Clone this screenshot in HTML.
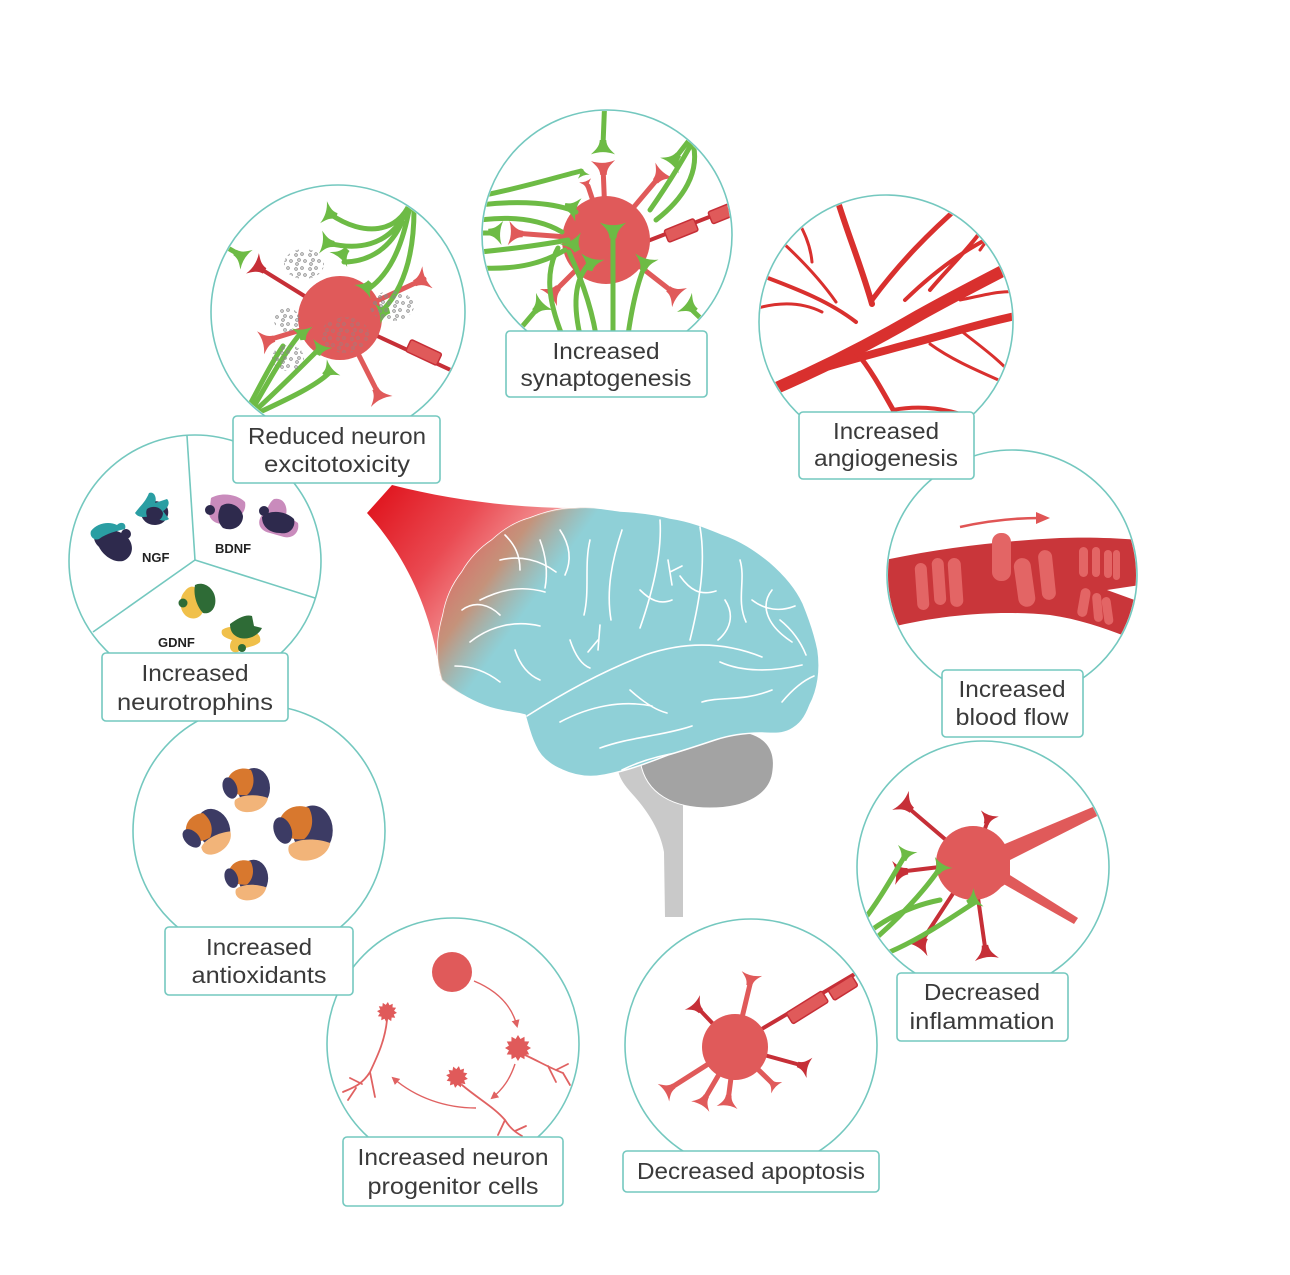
<!DOCTYPE html>
<html><head><meta charset="utf-8"><style>
html,body{margin:0;padding:0;background:#fff;}
svg{display:block;}
.lb{font-family:"Liberation Sans",Arial,sans-serif;font-size:23px;fill:#3a3a3a;}
.nt{font-family:"Liberation Sans",Arial,sans-serif;font-size:13px;font-weight:bold;fill:#222;}
.box{fill:#fff;stroke:#74c8bf;stroke-width:1.6;}
.circ{fill:#fff;stroke:#74c8bf;stroke-width:1.6;}
.gy{fill:none;stroke:#fff;stroke-width:1.6;stroke-linecap:round;}
.gr{fill:none;stroke:#6dbb45;stroke-width:5;stroke-linecap:round;}
.rd{stroke:#e05a5a;stroke-width:5;stroke-linecap:round;fill:none;}
.dr{stroke:#c62f37;stroke-width:4;stroke-linecap:round;fill:none;}
.ves{fill:none;stroke:#d9302e;stroke-linecap:round;stroke-linejoin:round;}
.arr{fill:none;stroke:#e06262;stroke-width:1.4;}
</style></head><body>
<svg width="1290" height="1275" viewBox="0 0 1290 1275" xmlns="http://www.w3.org/2000/svg">
<defs>
<clipPath id="c1"><circle cx="338" cy="312" r="126"/></clipPath>
<clipPath id="c2"><circle cx="607" cy="235" r="124"/></clipPath>
<clipPath id="c3"><circle cx="886" cy="322" r="126"/></clipPath>
<clipPath id="c4"><circle cx="1012" cy="575" r="124"/></clipPath>
<clipPath id="c5"><circle cx="983" cy="867" r="125"/></clipPath>
<clipPath id="c6"><circle cx="751" cy="1045" r="125"/></clipPath>
<clipPath id="c7"><circle cx="453" cy="1044" r="125"/></clipPath>
<clipPath id="c8"><circle cx="259" cy="831" r="125"/></clipPath>
<clipPath id="c9"><circle cx="195" cy="561" r="125"/></clipPath>
<path id="fl" d="M-2.8,13 C-3,7 -7,4 -10.5,0.5 Q0,4.5 10.5,0.5 C7,4 3,7 2.8,13 Z"/>
<path id="star" d="M1,0 L0.695,0.186 L0.866,0.5 L0.509,0.509 L0.5,0.866 L0.186,0.695 L0,1 L-0.186,0.695 L-0.5,0.866 L-0.509,0.509 L-0.866,0.5 L-0.695,0.186 L-1,0 L-0.695,-0.186 L-0.866,-0.5 L-0.509,-0.509 L-0.5,-0.866 L-0.186,-0.695 L0,-1 L0.186,-0.695 L0.5,-0.866 L0.509,-0.509 L0.866,-0.5 L0.695,-0.186 Z"/>
<marker id="ah" markerWidth="8" markerHeight="8" refX="6" refY="4" orient="auto" markerUnits="userSpaceOnUse"><path d="M0,0 L8,4 L0,8 Z" fill="#e06262"/></marker>
<pattern id="dots" width="14" height="14" patternUnits="userSpaceOnUse">
<circle cx="2" cy="3" r="1.3" fill="none" stroke="#888" stroke-width="0.9"/>
<circle cx="8" cy="2" r="1.3" fill="none" stroke="#888" stroke-width="0.9"/>
<circle cx="5" cy="8" r="1.3" fill="none" stroke="#888" stroke-width="0.9"/>
<circle cx="11" cy="9" r="1.3" fill="none" stroke="#888" stroke-width="0.9"/>
<circle cx="3" cy="12" r="1.3" fill="none" stroke="#888" stroke-width="0.9"/>
</pattern>
<path id="brainP" d="M442,680 C436,660 436,640 443,615 C446,598 452,585 462,572 C470,558 480,548 492,540 C503,530 515,522 530,518 C545,512 560,508 575,508 C590,506 605,509 620,511 C640,512 655,514 670,518 C690,521 705,527 722,534 C740,540 755,550 770,562 C785,575 796,588 803,603 C810,620 815,635 818,650 C821,670 818,690 810,705 C805,718 800,725 790,730 C780,735 770,733 760,733 C745,733 730,735 715,740 C700,745 685,750 668,755 C650,762 630,770 605,775 C590,778 575,776 562,770 C550,765 540,757 535,745 C530,735 528,725 525,715 C515,712 500,712 485,706 C470,700 455,692 442,680 Z"/>
<clipPath id="cb"><use href="#brainP"/></clipPath>
<linearGradient id="gCone" gradientUnits="userSpaceOnUse" x1="375" y1="498" x2="510" y2="600">
<stop offset="0" stop-color="#e0161f"/><stop offset="0.5" stop-color="#ea4a52"/><stop offset="1" stop-color="#f4a6a6"/></linearGradient>
<linearGradient id="gBr" gradientUnits="userSpaceOnUse" x1="438" y1="545" x2="555" y2="630">
<stop offset="0" stop-color="#e35d60" stop-opacity="1"/><stop offset="0.42" stop-color="#cc8a6e" stop-opacity="0.88"/><stop offset="0.76" stop-color="#b09a88" stop-opacity="0"/></linearGradient>
</defs>

<!-- ============ BRAIN ============ -->
<path d="M392,485 C450,500 515,508 575,508 L560,560 L470,650 L440,676 C432,610 405,555 367,513 Z" fill="url(#gCone)"/>
<path d="M618,770 L640,764 C650,790 665,800 683,805 L683,917 L665,917 L664,852 C660,830 648,812 635,797 C628,789 620,781 618,770 Z" fill="#c9c9c9"/>
<path d="M640,760 C650,740 690,731 730,731 C762,731 776,746 773,770 C771,795 745,808 710,808 C675,808 645,795 640,760 Z" fill="#a3a3a3" stroke="#fff" stroke-width="1"/>
<use href="#brainP" fill="#8fd0d7" stroke="#fff" stroke-width="1.5"/>
<rect x="420" y="490" width="200" height="220" fill="url(#gBr)" clip-path="url(#cb)"/>
<g clip-path="url(#cb)">
<path class="gy" d="M527,716 C560,695 600,672 645,655 C680,643 720,640 762,657"/>
<path class="gy" d="M660,520 C662,550 655,585 640,628"/>
<path class="gy" d="M700,527 C706,562 700,600 690,640"/>
<path class="gy" d="M622,530 C612,560 606,590 611,620"/>
<path class="gy" d="M590,540 C584,565 590,590 584,615"/>
<path class="gy" d="M740,560 C746,580 736,600 746,622"/>
<path class="gy" d="M772,590 C760,605 766,625 792,642"/>
<path class="gy" d="M720,662 C742,672 772,672 802,665"/>
<path class="gy" d="M560,722 C590,706 622,700 652,706"/>
<path class="gy" d="M600,748 C630,737 662,736 692,726"/>
<path class="gy" d="M702,702 C722,696 742,702 772,690"/>
<path class="gy" d="M470,642 C490,626 515,620 540,626"/>
<path class="gy" d="M480,600 C500,590 520,585 545,592"/>
<path class="gy" d="M500,560 C520,555 540,560 556,572"/>
<path class="gy" d="M455,666 C470,666 486,671 500,682"/>
<path class="gy" d="M540,540 C546,556 548,572 545,588"/>
<path class="gy" d="M680,576 C690,590 700,596 716,591"/>
<path class="gy" d="M782,702 C792,690 802,681 814,676"/>
<path class="gy" d="M622,770 C642,760 662,755 682,752"/>
<path class="gy" d="M630,690 C641,700 655,710 667,713"/>
<path class="gy" d="M570,640 C575,655 582,665 590,668"/>
<path class="gy" d="M752,600 C765,610 780,612 795,606"/>
<path class="gy" d="M600,625 L598,650 M598,640 L588,652"/>
<path class="gy" d="M668,560 L672,585 M670,572 L682,566"/>
<path class="gy" d="M515,650 C520,665 528,675 540,680"/>
<path class="gy" d="M462,610 C475,600 490,605 500,615"/>
<path class="gy" d="M505,535 C515,545 520,555 520,570"/>
<path class="gy" d="M560,530 C570,545 572,560 565,575"/>
<path class="gy" d="M725,600 C735,615 730,630 718,640"/>
<path class="gy" d="M640,590 C650,600 660,605 672,600"/>
<path class="gy" d="M780,620 C790,628 800,640 806,655"/>
</g>

<!-- ============ CIRCLES ============ -->
<circle class="circ" cx="338" cy="312" r="127"/>
<circle class="circ" cx="607" cy="235" r="125"/>
<circle class="circ" cx="886" cy="322" r="127"/>
<circle class="circ" cx="1012" cy="575" r="125"/>
<circle class="circ" cx="983" cy="867" r="126"/>
<circle class="circ" cx="751" cy="1045" r="126"/>
<circle class="circ" cx="453" cy="1044" r="126"/>
<circle class="circ" cx="259" cy="831" r="126"/>
<circle class="circ" cx="195" cy="561" r="126"/>

<!-- 1 Excitotoxicity -->
<g clip-path="url(#c1)">
<line class="dr" x1="340" y1="318" x2="256" y2="266"/>
<line class="rd" x1="340" y1="318" x2="424" y2="279"/>
<line class="rd" x1="340" y1="318" x2="265" y2="341"/>
<line class="rd" x1="340" y1="318" x2="380" y2="397"/>
<line class="dr" x1="360" y1="328" x2="470" y2="379"/>
<rect x="407" y="346" width="34" height="13" rx="2" transform="rotate(25 424 352)" fill="#e05a5a" stroke="#c62f37" stroke-width="1.5"/>
<circle cx="340" cy="318" r="42" fill="#e05a5a"/>
<use href="#fl" fill="#c62f37" transform="translate(252,263) rotate(-58) scale(1.15)"/>
<use href="#fl" fill="#e05a5a" transform="translate(428,277) rotate(65) scale(1.15)"/>
<use href="#fl" fill="#e05a5a" transform="translate(260,343) rotate(-107) scale(1.15)"/>
<use href="#fl" fill="#e05a5a" transform="translate(382,402) rotate(153) scale(1.15)"/>
<use href="#fl" fill="#6dbb45" transform="translate(247,260) rotate(122) scale(1.1)"/>
<line class="gr" x1="240" y1="255" x2="200" y2="232"/>
<path class="gr" d="M410,203 C398,232 365,238 330,214"/>
<path class="gr" d="M406,212 C388,248 355,250 328,243"/>
<path class="gr" d="M402,222 C388,254 362,262 344,262"/>
<path class="gr" d="M410,205 C402,250 388,276 367,290"/>
<path class="gr" d="M414,210 C414,262 400,292 383,310"/>
<use href="#fl" fill="#6dbb45" transform="translate(323,212) rotate(-73) scale(1.1)"/>
<use href="#fl" fill="#6dbb45" transform="translate(320,242) rotate(-82) scale(1.1)"/>
<use href="#fl" fill="#6dbb45" transform="translate(338,260) rotate(-140) scale(1.1)"/>
<use href="#fl" fill="#6dbb45" transform="translate(362,292) rotate(-140)"/>
<use href="#fl" fill="#6dbb45" transform="translate(377,314) rotate(-105)"/>
<path class="gr" d="M252,410 C268,382 285,352 300,334"/>
<path class="gr" d="M256,410 C280,388 302,366 318,350"/>
<path class="gr" d="M260,412 C290,398 315,386 328,374"/>
<path class="gr" d="M248,408 C262,382 272,362 283,346"/>
<use href="#fl" fill="#6dbb45" transform="translate(302,327) rotate(-5)"/>
<use href="#fl" fill="#6dbb45" transform="translate(323,343) rotate(25)"/>
<use href="#fl" fill="#6dbb45" transform="translate(334,367) rotate(50)"/>
<ellipse cx="304" cy="264" rx="20" ry="15" fill="url(#dots)"/>
<ellipse cx="287" cy="320" rx="13" ry="12" fill="url(#dots)"/>
<ellipse cx="288" cy="358" rx="16" ry="13" fill="url(#dots)"/>
<ellipse cx="392" cy="306" rx="22" ry="15" fill="url(#dots)"/>
<ellipse cx="345" cy="335" rx="24" ry="18" fill="url(#dots)" opacity="0.6"/>
</g>

<!-- 2 Synaptogenesis -->
<g clip-path="url(#c2)">
<line class="dr" x1="640" y1="244" x2="745" y2="203"/>
<rect x="665" y="224" width="32" height="13" rx="2" transform="rotate(-22 681 230)" fill="#e05a5a" stroke="#c62f37" stroke-width="1.5"/>
<rect x="709" y="206" width="30" height="13" rx="2" transform="rotate(-22 724 212)" fill="#e05a5a" stroke="#c62f37" stroke-width="1.5"/>
<line class="rd" x1="606" y1="240" x2="603" y2="166"/>
<line class="rd" x1="606" y1="240" x2="660" y2="176"/>
<line class="rd" x1="606" y1="240" x2="588" y2="186" stroke-width="3.5"/>
<line class="rd" x1="606" y1="240" x2="514" y2="233"/>
<line class="rd" x1="606" y1="240" x2="553" y2="293"/>
<line class="rd" x1="606" y1="240" x2="674" y2="293"/>
<circle cx="606" cy="240" r="44" fill="#e05a5a"/>
<use href="#fl" fill="#e05a5a" transform="translate(603,160) rotate(-2) scale(1.15)"/>
<use href="#fl" fill="#6dbb45" transform="translate(603,155) rotate(180) scale(1.15)"/>
<line class="gr" x1="603" y1="145" x2="605" y2="95"/>
<use href="#fl" fill="#e05a5a" transform="translate(665,170) rotate(40) scale(1.15)"/>
<use href="#fl" fill="#6dbb45" transform="translate(669,166) rotate(220) scale(1.15)"/>
<line class="gr" x1="676" y1="157" x2="705" y2="120"/>
<use href="#fl" fill="#e05a5a" transform="translate(585,180) rotate(-19) scale(0.6)"/>
<use href="#fl" fill="#6dbb45" transform="translate(584,177) rotate(161) scale(0.6)"/>
<path class="gr" d="M581,171 C560,176 530,186 480,196"/>
<use href="#fl" fill="#e05a5a" transform="translate(508,233) rotate(-86) scale(1.15)"/>
<use href="#fl" fill="#6dbb45" transform="translate(503,233) rotate(94) scale(1.15)"/>
<line class="gr" x1="492" y1="233" x2="470" y2="233"/>
<use href="#fl" fill="#e05a5a" transform="translate(548,298) rotate(-135) scale(1.15)"/>
<use href="#fl" fill="#6dbb45" transform="translate(545,301) rotate(45) scale(1.15)"/>
<line class="gr" x1="537" y1="309" x2="515" y2="335"/>
<use href="#fl" fill="#e05a5a" transform="translate(680,298) rotate(128) scale(1.15)"/>
<use href="#fl" fill="#6dbb45" transform="translate(684,302) rotate(-52) scale(1.15)"/>
<line class="gr" x1="692" y1="310" x2="718" y2="335"/>
<path class="gr" d="M480,205 C520,200 556,203 576,212"/>
<path class="gr" d="M480,252 C520,248 552,243 568,240"/>
<path class="gr" d="M480,268 C520,270 545,262 565,250"/>
<path class="gr" d="M480,220 C520,215 545,222 562,232"/>
<path class="gr" d="M580,335 C572,300 576,276 591,262"/>
<path class="gr" d="M613,335 C613,300 613,262 613,230"/>
<path class="gr" d="M628,335 C633,300 640,276 646,263"/>
<path class="gr" d="M596,335 C590,300 578,272 569,252"/>
<path class="gr" d="M562,335 C548,300 545,272 558,248"/>
<path class="gr" d="M703,122 C684,160 664,190 650,210"/>
<path class="gr" d="M692,140 C702,172 682,200 656,220"/>
<use href="#fl" fill="#6dbb45" transform="translate(579,210) rotate(105) scale(1.15)"/>
<use href="#fl" fill="#6dbb45" transform="translate(570,238) rotate(-30) scale(1.15)"/>
<use href="#fl" fill="#6dbb45" transform="translate(593,256) rotate(15) scale(1.15)"/>
<use href="#fl" fill="#6dbb45" transform="translate(613,222) rotate(0) scale(1.25)"/>
<use href="#fl" fill="#6dbb45" transform="translate(647,256) rotate(15) scale(1.15)"/>
</g>

<!-- 3 Angiogenesis -->
<g clip-path="url(#c3)">
<path class="ves" stroke-width="12" d="M760,395 C815,372 868,345 918,316 C950,298 985,280 1020,262"/>
<path class="ves" stroke-width="8" d="M800,375 C860,356 920,342 960,330 C985,323 1005,318 1025,314"/>
<path class="ves" stroke-width="6" d="M835,192 C846,230 860,262 872,304"/>
<path class="ves" stroke-width="5" d="M872,300 C900,262 930,232 962,204"/>
<path class="ves" stroke-width="4" d="M905,300 C940,266 975,242 1015,226"/>
<path class="ves" stroke-width="4" d="M930,290 C955,260 980,240 1000,200"/>
<path class="ves" stroke-width="5" d="M856,352 C870,368 882,390 896,415"/>
<path class="ves" stroke-width="4" d="M893,410 C920,405 950,408 975,420"/>
<path class="ves" stroke-width="4" d="M760,275 C800,290 830,302 856,322"/>
<path class="ves" stroke-width="3" d="M782,242 C806,264 822,282 836,302"/>
<path class="ves" stroke-width="3" d="M758,308 C780,302 802,302 822,312"/>
<path class="ves" stroke-width="3" d="M790,205 C800,225 810,240 812,262"/>
<path class="ves" stroke-width="3" d="M960,330 C980,346 1000,360 1015,378"/>
<path class="ves" stroke-width="3" d="M930,344 C952,360 976,370 1012,386"/>
<path class="ves" stroke-width="3" d="M960,300 C985,295 1000,290 1020,292"/>
<path class="ves" stroke-width="3" d="M980,250 C990,235 1000,228 1015,225"/>
</g>

<!-- 4 Blood flow -->
<g clip-path="url(#c4)">
<path d="M880,561 C940,548 1000,541 1060,538 C1090,537 1115,538 1140,540 L1140,585 L1107,590 L1140,602 L1140,642 C1115,632 1085,620 1050,615 C1000,610 940,614 880,630 Z" fill="#c9363a"/>
<g fill="#e36565">
<rect x="916" y="563" width="12" height="47" rx="6" transform="rotate(-4 922 586)"/>
<rect x="933" y="558" width="12" height="47" rx="6" transform="rotate(-4 939 582)"/>
<rect x="949" y="558" width="13" height="49" rx="6.5" transform="rotate(-4 955 582)"/>
<rect x="992" y="533" width="19" height="48" rx="9"/>
<rect x="1016" y="558" width="17" height="49" rx="8.5" transform="rotate(-8 1024 582)"/>
<rect x="1040" y="550" width="14" height="50" rx="7" transform="rotate(-6 1047 575)"/>
<rect x="1079" y="547" width="9" height="30" rx="4.5"/>
<rect x="1092" y="547" width="8" height="30" rx="4"/>
<rect x="1104" y="550" width="8" height="28" rx="4"/>
<rect x="1113" y="550" width="7" height="30" rx="3.5"/>
<rect x="1079" y="588" width="10" height="29" rx="5" transform="rotate(10 1084 602)"/>
<rect x="1093" y="593" width="9" height="29" rx="4.5" transform="rotate(-5 1097 607)"/>
<rect x="1103" y="597" width="9" height="28" rx="4.5" transform="rotate(-8 1107 611)"/>
</g>
</g>
<path d="M960,527 Q1000,518 1040,518" fill="none" stroke="#e05555" stroke-width="2.5"/>
<path d="M1036,512 L1050,518 L1036,524 Z" fill="#e05555"/>

<!-- 5 Inflammation -->
<g clip-path="url(#c5)">
<path d="M1000,846 L1112,799 L1115,807 L1006,862 Z" fill="#e05a5a"/>
<path d="M1005,872 L1078,918 L1074,924 L1000,882 Z" fill="#e05a5a"/>
<path d="M975,830 C992,836 1002,842 1010,850 L1010,880 C1002,888 990,894 975,898 Z" fill="#e05a5a"/>
<line class="dr" x1="973" y1="863" x2="905" y2="805" stroke-width="5"/>
<line class="dr" x1="973" y1="863" x2="988" y2="820" stroke-width="5"/>
<line class="dr" x1="973" y1="863" x2="898" y2="872" stroke-width="5"/>
<line class="dr" x1="973" y1="863" x2="920" y2="944" stroke-width="5"/>
<line class="dr" x1="973" y1="863" x2="986" y2="954" stroke-width="5"/>
<circle cx="973" cy="863" r="37" fill="#e05a5a"/>
<use href="#fl" fill="#c62f37" transform="translate(900,800) rotate(-49) scale(1.2)"/>
<use href="#fl" fill="#c62f37" transform="translate(990,813) rotate(19) scale(0.9)"/>
<use href="#fl" fill="#c62f37" transform="translate(893,873) rotate(-97) scale(1.15)"/>
<use href="#fl" fill="#c62f37" transform="translate(917,950) rotate(-147) scale(1.15)"/>
<use href="#fl" fill="#c62f37" transform="translate(987,960) rotate(172) scale(1.15)"/>
<path class="gr" stroke-width="4" d="M860,925 C880,900 895,872 906,854"/>
<path class="gr" stroke-width="4" d="M868,945 C898,920 925,890 940,868"/>
<path class="gr" stroke-width="4" d="M875,958 C918,942 953,916 974,903"/>
<path class="gr" stroke-width="4" d="M865,935 C890,915 915,905 940,900"/>
<use href="#fl" fill="#6dbb45" transform="translate(908,848) rotate(20)"/>
<use href="#fl" fill="#6dbb45" transform="translate(944,862) rotate(32)"/>
<use href="#fl" fill="#6dbb45" transform="translate(979,897) rotate(62)"/>
</g>

<!-- 6 Apoptosis -->
<g clip-path="url(#c6)">
<line class="dr" x1="755" y1="1033" x2="875" y2="962"/>
<rect x="786" y="1001" width="42" height="13" rx="2" transform="rotate(-32 807 1007)" fill="#e05a5a" stroke="#c62f37" stroke-width="1.5"/>
<rect x="829" y="982" width="28" height="12" rx="2" transform="rotate(-32 843 988)" fill="#e05a5a" stroke="#c62f37" stroke-width="1.5"/>
<line class="rd" x1="735" y1="1047" x2="751" y2="980" stroke-width="4"/>
<line class="dr" x1="735" y1="1047" x2="697" y2="1007"/>
<line class="dr" x1="735" y1="1047" x2="804" y2="1066"/>
<line class="rd" x1="735" y1="1047" x2="773" y2="1084" stroke-width="3.5"/>
<line class="rd" x1="735" y1="1047" x2="728" y2="1101" stroke-width="4"/>
<line class="rd" x1="735" y1="1047" x2="704" y2="1100" stroke-width="4"/>
<line class="rd" x1="735" y1="1047" x2="669" y2="1089" stroke-width="4"/>
<circle cx="735" cy="1047" r="33" fill="#e05a5a"/>
<use href="#fl" fill="#e05a5a" transform="translate(752,973) rotate(13)"/>
<use href="#fl" fill="#c62f37" transform="translate(692,1002) rotate(-44)"/>
<use href="#fl" fill="#c62f37" transform="translate(810,1068) rotate(106)"/>
<use href="#fl" fill="#e05a5a" transform="translate(777,1088) rotate(134) scale(0.75)"/>
<use href="#fl" fill="#e05a5a" transform="translate(727,1108) rotate(-172)"/>
<use href="#fl" fill="#e05a5a" transform="translate(700,1107) rotate(-150)"/>
<use href="#fl" fill="#e05a5a" transform="translate(663,1093) rotate(-123)"/>
</g>

<!-- 7 Progenitor -->
<g clip-path="url(#c7)">
<circle cx="452" cy="972" r="20" fill="#e05a5a"/>
<path class="arr" d="M474,981 C498,991 512,1006 517,1026" marker-end="url(#ah)"/>
<path class="arr" d="M515,1064 C510,1079 503,1089 492,1098" marker-end="url(#ah)"/>
<path class="arr" d="M476,1108 C446,1108 416,1098 393,1078" marker-end="url(#ah)"/>
<g fill="none" stroke="#e06262" stroke-width="1.8" stroke-linecap="round">
<path d="M525,1055 C540,1062 550,1068 563,1073 M548,1066 L556,1082 M556,1070 L568,1064 M563,1073 L570,1085"/>
<path d="M462,1085 C480,1100 495,1108 505,1120 C510,1128 515,1132 522,1136 M505,1120 L498,1135 M515,1131 L526,1126"/>
<path d="M387,1020 C385,1040 378,1055 370,1072 C362,1085 352,1088 343,1092 M370,1072 L375,1097 M362,1084 L350,1078 M356,1088 L348,1100"/>
</g>
<use href="#star" fill="#e05a5a" transform="translate(518,1048) scale(13)"/>
<use href="#star" fill="#e05a5a" transform="translate(457,1077) scale(11) rotate(10)"/>
<use href="#star" fill="#e05a5a" transform="translate(387,1012) scale(10) rotate(5)"/>
</g>

<!-- 8 Antioxidants -->
<g id="ao" transform="translate(247,790)">
<ellipse cx="7" cy="-2" rx="16" ry="20" fill="#3c3b64"/>
<path d="M-20,-8 C-18,-20 -5,-24 4,-20 C9,-10 6,0 0,5 C-10,6 -20,2 -20,-8Z" fill="#d8782e"/>
<ellipse cx="-17" cy="-2" rx="7" ry="11" transform="rotate(-20 -17 -2)" fill="#3c3b64"/>
<path d="M-12,10 C-5,4 10,4 21,8 C19,18 8,23 -2,22 C-10,21 -14,16 -12,10Z" fill="#f2b479"/>
</g>
<use href="#ao" transform="translate(-39,43) rotate(-25 247 790) scale(1)"/>
<use href="#ao" transform="translate(304,833) scale(1.25) translate(-247,-790)"/>
<use href="#ao" transform="translate(247,880) scale(0.92) translate(-247,-790)"/>

<!-- 9 Neurotrophins -->
<g stroke="#74c8bf" stroke-width="1.6">
<line x1="195" y1="560" x2="187" y2="436"/>
<line x1="195" y1="560" x2="93" y2="632"/>
<line x1="195" y1="560" x2="315" y2="598"/>
</g>
<g transform="translate(113,541)">
<path d="M-18,-6 C-10,-14 6,-12 14,-4 C22,4 20,16 10,20 C0,22 -10,14 -14,6 C-18,2 -20,-2 -18,-6Z" fill="#2e2a4d"/>
<path d="M-22,-10 C-16,-18 -4,-20 4,-16 C8,-20 14,-18 12,-12 C4,-10 -6,-8 -14,-2 C-18,0 -24,-4 -22,-10Z" fill="#2a9ea3"/>
<circle cx="13" cy="-7" r="5" fill="#2e2a4d"/>
</g>
<g transform="translate(153,511)">
<path d="M-12,-4 C-6,-12 8,-12 14,-4 C18,4 12,14 2,14 C-8,14 -14,6 -12,-4Z" fill="#2e2a4d"/>
<path d="M-4,-18 C2,-20 4,-12 2,-8 L14,-12 C18,-8 14,-2 10,0 L16,8 C10,12 4,8 0,4 C-6,6 -14,8 -18,2 C-14,-4 -8,-8 -4,-18Z" fill="#2a9ea3"/>
<path d="M-6,-2 C0,-6 8,-4 10,2 C10,8 4,12 -2,10 C-6,8 -8,2 -6,-2Z" fill="#2e2a4d"/>
</g>
<g transform="translate(227,512)">
<path d="M-16,-14 C-6,-20 10,-18 18,-10 C20,0 12,6 4,10 C-4,14 -16,12 -18,2 Z" fill="#c98bbc"/>
<path d="M-6,-6 C2,-12 14,-6 16,4 C16,14 6,20 -4,16 C-10,10 -10,2 -6,-6Z" fill="#2e2a4d"/>
<circle cx="-17" cy="-2" r="5" fill="#2e2a4d"/>
</g>
<g transform="translate(276,519)">
<path d="M-2,-20 C8,-22 12,-12 10,-4 L22,4 C24,14 16,20 8,18 L-6,14 C-16,12 -20,4 -14,-4 C-8,-8 -8,-16 -2,-20Z" fill="#c98bbc"/>
<path d="M-14,-2 C-6,-10 10,-8 18,0 C20,8 14,16 4,14 C-6,14 -14,8 -14,-2Z" fill="#2e2a4d"/>
<circle cx="-12" cy="-8" r="5" fill="#2e2a4d"/>
</g>
<g transform="translate(199,601)">
<path d="M-14,-10 C-8,-18 0,-14 0,-6 C6,-4 8,4 4,10 C2,18 -8,20 -14,14 C-20,8 -20,-4 -14,-10Z" fill="#f0c04a"/>
<path d="M-4,-16 C4,-20 14,-14 16,-4 C18,6 12,14 4,12 C-2,6 -6,-6 -4,-16Z" fill="#2e6b36"/>
<circle cx="-16" cy="2" r="4.5" fill="#2e6b36"/>
</g>
<g transform="translate(242,632)">
<path d="M-20,-2 C-12,-8 -2,-4 4,0 C12,-2 20,2 18,10 C12,16 2,14 -4,20 C-12,22 -14,14 -10,8 C-16,6 -22,4 -20,-2Z" fill="#f0c04a"/>
<path d="M-12,-8 C-4,-14 4,-18 10,-16 L12,-6 L20,-4 C16,4 6,8 -2,6 C-8,4 -12,0 -12,-8Z" fill="#2e6b36"/>
<circle cx="0" cy="16" r="4" fill="#2e6b36"/>
</g>
<text class="nt" x="142" y="562">NGF</text>
<text class="nt" x="215" y="553">BDNF</text>
<text class="nt" x="158" y="647">GDNF</text>

<!-- ============ LABEL BOXES ============ -->
<rect class="box" x="233" y="416" width="207" height="67" rx="4"/>
<text class="lb" x="337" y="444" text-anchor="middle" textLength="178" lengthAdjust="spacingAndGlyphs">Reduced neuron</text>
<text class="lb" x="337" y="472" text-anchor="middle" textLength="146" lengthAdjust="spacingAndGlyphs">excitotoxicity</text>

<rect class="box" x="506" y="331" width="201" height="66" rx="4"/>
<text class="lb" x="606" y="359" text-anchor="middle" textLength="107" lengthAdjust="spacingAndGlyphs">Increased</text>
<text class="lb" x="606" y="386" text-anchor="middle" textLength="171" lengthAdjust="spacingAndGlyphs">synaptogenesis</text>

<rect class="box" x="799" y="412" width="175" height="67" rx="4"/>
<text class="lb" x="886" y="439" text-anchor="middle" textLength="106" lengthAdjust="spacingAndGlyphs">Increased</text>
<text class="lb" x="886" y="466" text-anchor="middle" textLength="144" lengthAdjust="spacingAndGlyphs">angiogenesis</text>

<rect class="box" x="942" y="670" width="141" height="67" rx="4"/>
<text class="lb" x="1012" y="697" text-anchor="middle" textLength="107" lengthAdjust="spacingAndGlyphs">Increased</text>
<text class="lb" x="1012" y="725" text-anchor="middle" textLength="113" lengthAdjust="spacingAndGlyphs">blood flow</text>

<rect class="box" x="897" y="973" width="171" height="68" rx="4"/>
<text class="lb" x="982" y="1000" text-anchor="middle" textLength="116" lengthAdjust="spacingAndGlyphs">Decreased</text>
<text class="lb" x="982" y="1029" text-anchor="middle" textLength="145" lengthAdjust="spacingAndGlyphs">inflammation</text>

<rect class="box" x="623" y="1151" width="256" height="41" rx="4"/>
<text class="lb" x="751" y="1179" text-anchor="middle" textLength="228" lengthAdjust="spacingAndGlyphs">Decreased apoptosis</text>

<rect class="box" x="343" y="1137" width="220" height="69" rx="4"/>
<text class="lb" x="453" y="1165" text-anchor="middle" textLength="191" lengthAdjust="spacingAndGlyphs">Increased neuron</text>
<text class="lb" x="453" y="1194" text-anchor="middle" textLength="171" lengthAdjust="spacingAndGlyphs">progenitor cells</text>

<rect class="box" x="165" y="927" width="188" height="68" rx="4"/>
<text class="lb" x="259" y="955" text-anchor="middle" textLength="106" lengthAdjust="spacingAndGlyphs">Increased</text>
<text class="lb" x="259" y="983" text-anchor="middle" textLength="135" lengthAdjust="spacingAndGlyphs">antioxidants</text>

<rect class="box" x="102" y="653" width="186" height="68" rx="4"/>
<text class="lb" x="195" y="681" text-anchor="middle" textLength="107" lengthAdjust="spacingAndGlyphs">Increased</text>
<text class="lb" x="195" y="710" text-anchor="middle" textLength="156" lengthAdjust="spacingAndGlyphs">neurotrophins</text>
</svg>
</body></html>
